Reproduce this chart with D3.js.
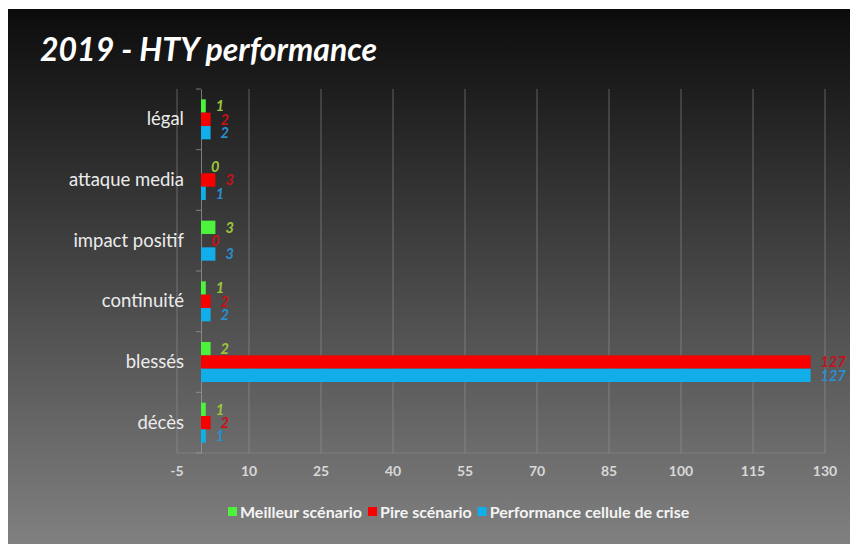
<!DOCTYPE html>
<html>
<head>
<meta charset="utf-8">
<script src="https://cdn.jsdelivr.net/npm/d3@7"></script>
<style>
  body { margin: 0; background: #fff; }
  svg text { font-family: Lato, "Open Sans", sans-serif; }
</style>
</head>
<body>
<div id="container"></div>
<script>
// Data
const categories = ["légal", "attaque media", "impact positif", "continuité", "blessés", "décès"];
const seriesNames = ["Meilleur scénario", "Pire scénario", "Performance cellule de crise"];
const meilleur = [1, 0, 3, 1, 2, 1];
const pire = [2, 3, 0, 2, 127, 2];
const performance = [2, 1, 3, 2, 127, 1];
const xTicks = [-5, 10, 25, 40, 55, 70, 85, 100, 115, 130];

const barColors = ["#4cf23c", "#f80000", "#12aeea"];
const labelColors = ["#9bc83a", "#c8101a", "#2a8fcf"];

const W = 850, H = 544;
const svg = d3.select("#container")
    .append("svg")
    .attr("width", W)
    .attr("height", H);

// background frame with gradient
const grad = svg.append("defs").append("linearGradient")
    .attr("id", "bg").attr("x1", 0).attr("y1", 0).attr("x2", 0).attr("y2", 1);
grad.append("stop").attr("offset", "0%").attr("stop-color", "#0c0c0c");
grad.append("stop").attr("offset", "100%").attr("stop-color", "#808080");

svg.append("rect")
    .attr("x", 8).attr("y", 9)
    .attr("width", W - 8).attr("height", H - 9)
    .attr("fill", "url(#bg)");

svg.append("text")
    .attr("x", 40).attr("y", 61)
    .attr("fill", "#fff")
    .attr("font-size", 32)
    .attr("font-weight", "bold")
    .attr("font-style", "italic")
    .text("2019 - HTY performance");

// Scales
const x = d3.scaleLinear().domain([-5, 130]).range([177, 825]);
const y0 = d3.scaleBand().domain(categories).range([89, 453]).paddingInner(0.34).paddingOuter(0.17);
const y1 = d3.scaleBand().domain(d3.range(3)).range([0, y0.bandwidth()]);

// gridlines
svg.append("g")
    .selectAll("line")
    .data(xTicks)
    .join("line")
    .attr("x1", d => x(d)).attr("x2", d => x(d))
    .attr("y1", 89).attr("y2", 453)
    .attr("stroke", "#9a9a9a")
    .attr("stroke-opacity", 0.55)
    .attr("stroke-width", 1);

// bottom axis line
svg.append("line")
    .attr("x1", x(-5)).attr("x2", x(130))
    .attr("y1", 453).attr("y2", 453)
    .attr("stroke", "#9a9a9a").attr("stroke-opacity", 0.45);

// x tick labels
svg.append("g")
    .selectAll("text")
    .data(xTicks)
    .join("text")
    .attr("x", d => x(d))
    .attr("y", 476)
    .attr("text-anchor", "middle")
    .attr("fill", "#d8d8d8")
    .attr("font-size", 14)
    .attr("font-weight", "bold")
    .text(d => d);

// category axis at zero
const yAxis = svg.append("g")
    .attr("transform", `translate(${x(0)},0)`)
    .call(d3.axisLeft(y0).tickSize(0).tickPadding(17));
yAxis.select(".domain").attr("stroke", "#a0a0a0").attr("stroke-opacity", 0.7);
yAxis.selectAll("text")
    .attr("fill", "#ececec")
    .attr("font-size", 18.5)
    .attr("font-family", "Lato, sans-serif");

// small ticks between categories
const bounds = categories.map(c => y0(c) - y0.step() * y0.paddingInner() / 2).concat([453]);
yAxis.append("g")
    .selectAll("line")
    .data(bounds)
    .join("line")
    .attr("x1", -5).attr("x2", 0)
    .attr("y1", d => d).attr("y2", d => d)
    .attr("stroke", "#a0a0a0").attr("stroke-opacity", 0.7);

// bars
const table = categories.map((c, i) => ({
    cat: c,
    vals: [meilleur[i], pire[i], performance[i]]
}));

const groups = svg.append("g")
    .selectAll("g")
    .data(table)
    .join("g")
    .attr("transform", d => `translate(0,${y0(d.cat)})`);

groups.selectAll("rect")
    .data(d => d.vals.map((v, s) => ({ v, s })))
    .join("rect")
    .attr("x", x(0))
    .attr("y", d => y1(d.s))
    .attr("width", d => x(d.v) - x(0))
    .attr("height", y1.bandwidth())
    .attr("fill", d => barColors[d.s]);

groups.selectAll("text")
    .data(d => d.vals.map((v, s) => ({ v, s })))
    .join("text")
    .attr("x", d => x(d.v) + 10)
    .attr("y", d => y1(d.s) + y1.bandwidth() / 2)
    .attr("dy", "0.36em")
    .attr("fill", d => labelColors[d.s])
    .attr("font-size", 14.5)
    .attr("font-weight", "bold")
    .attr("font-style", "italic")
    .text(d => d.v);

// legend
const legend = svg.append("g").attr("transform", "translate(228,512)");
let lx = 0;
seriesNames.forEach((name, i) => {
    legend.append("rect")
        .attr("x", lx).attr("y", -5)
        .attr("width", 9).attr("height", 9)
        .attr("fill", barColors[i]);
    const t = legend.append("text")
        .attr("x", lx + 12).attr("y", 0)
        .attr("dy", "0.36em")
        .attr("fill", "#f4f4f4")
        .attr("font-size", 16)
        .attr("font-weight", "bold")
        .text(name);
    lx += 12 + t.node().getComputedTextLength() + 6;
});
</script>
</body>
</html>
